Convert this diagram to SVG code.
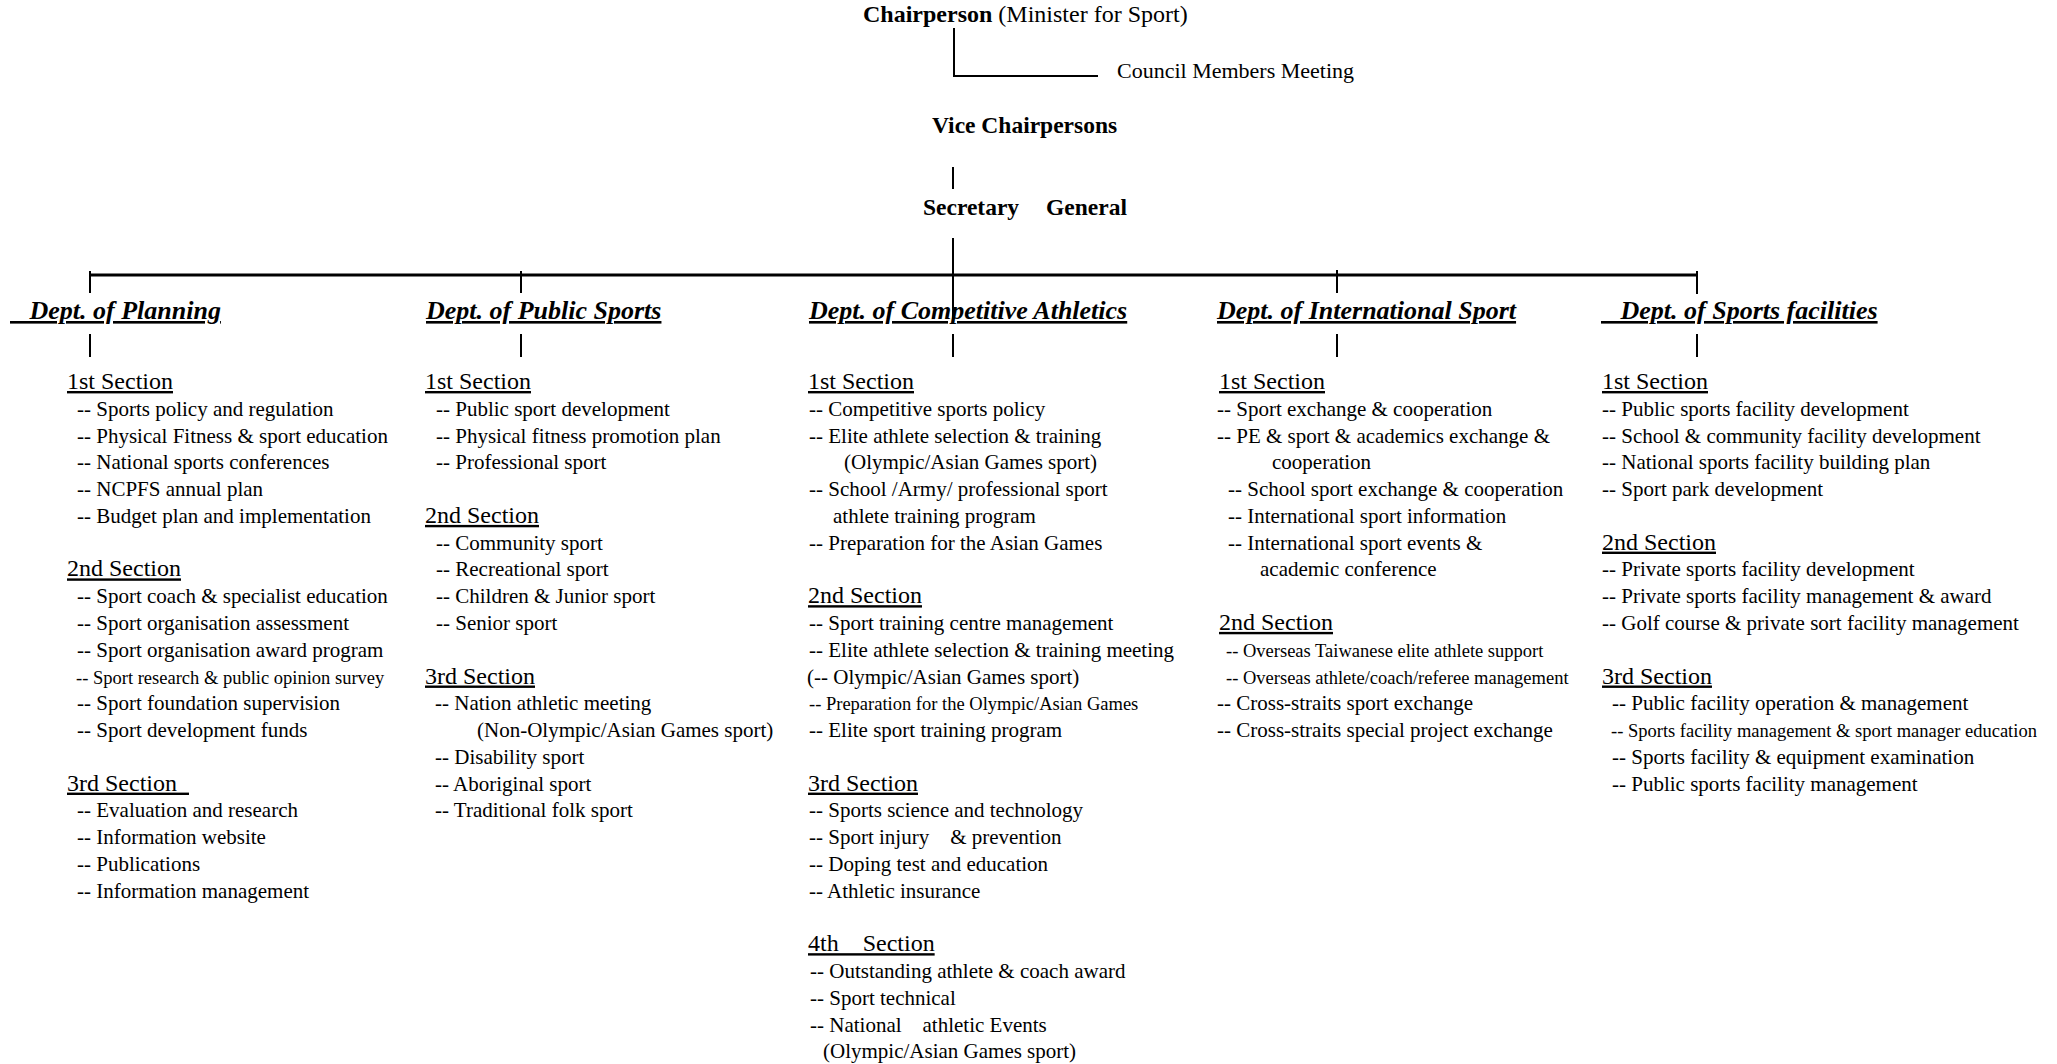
<svg xmlns="http://www.w3.org/2000/svg" width="2057" height="1064" viewBox="0 0 2057 1064">
  <style>
    text { font-family: "Liberation Serif", "Times New Roman", serif; fill: #000; white-space: pre; }
    .title { font-size: 23.5px; font-weight: bold; }
    .chair { font-size: 24px; }
    .reg { font-weight: normal; }
    .council { font-size: 22px; }
    .dept { font-size: 26px; font-weight: bold; font-style: italic; text-decoration: underline; text-decoration-thickness: 2.5px; }
    .sec { font-size: 24px; text-decoration: underline; }
    .t { font-size: 21px; }
    .s { font-size: 18.5px; }
    .ln { stroke: #000; stroke-width: 2; fill: none; }
    .bus { stroke: #000; stroke-width: 3; fill: none; }
  </style>

  <rect width="2057" height="1064" fill="#fff"/>

  <!-- connectors -->
  <g id="connectors">
    <polyline class="ln" points="954,28 954,76 1098,76"/>
    <line class="ln" x1="953" y1="167" x2="953" y2="189"/>
    <line class="ln" x1="953" y1="238" x2="953" y2="322"/>
    <line class="bus" x1="89" y1="275" x2="1698" y2="275"/>
    <line class="ln" x1="90" y1="271" x2="90" y2="293"/>
    <line class="ln" x1="521" y1="271" x2="521" y2="293"/>
    <line class="ln" x1="1337" y1="270" x2="1337" y2="293"/>
    <line class="ln" x1="1697" y1="271" x2="1697" y2="294"/>
    <line class="ln" x1="90" y1="334" x2="90" y2="357"/>
    <line class="ln" x1="521" y1="334" x2="521" y2="357"/>
    <line class="ln" x1="953" y1="334" x2="953" y2="357"/>
    <line class="ln" x1="1337" y1="334" x2="1337" y2="357"/>
    <line class="ln" x1="1697" y1="334" x2="1697" y2="357"/>
  </g>

  <!-- top of the hierarchy -->
  <g id="chairperson">
    <text class="title chair" x="863" y="22">Chairperson <tspan class="reg">(Minister for Sport)</tspan></text>
  </g>
  <g id="council-members-meeting">
    <text class="council" x="1117" y="78">Council Members Meeting</text>
  </g>
  <g id="vice-chairpersons">
    <text class="title" x="932" y="133">Vice Chairpersons</text>
  </g>
  <g id="secretary-general">
    <text class="title" x="923" y="215">Secretary</text>
    <text class="title" x="1046" y="215">General</text>
  </g>

  <!-- Dept. of Planning -->
  <g id="dept-planning">
    <text class="dept" x="10" y="319">   Dept. of Planning</text>
    <text class="sec" x="67" y="389">1st Section</text>
    <text class="t" x="77" y="415.8">-- Sports policy and regulation</text>
    <text class="t" x="77" y="442.5">-- Physical Fitness &amp; sport education</text>
    <text class="t" x="77" y="469.3">-- National sports conferences</text>
    <text class="t" x="77" y="496.1">-- NCPFS annual plan</text>
    <text class="t" x="77" y="522.9">-- Budget plan and implementation</text>
    <text class="sec" x="67" y="576.4">2nd Section</text>
    <text class="t" x="77" y="603.2">-- Sport coach &amp; specialist education</text>
    <text class="t" x="77" y="629.9">-- Sport organisation assessment</text>
    <text class="t" x="77" y="656.7">-- Sport organisation award program</text>
    <text class="s" x="76" y="683.5">-- Sport research &amp; public opinion survey</text>
    <text class="t" x="77" y="710.2">-- Sport foundation supervision</text>
    <text class="t" x="77" y="737">-- Sport development funds</text>
    <text class="sec" x="67" y="790.6">3rd Section  </text>
    <text class="t" x="77" y="817.3">-- Evaluation and research</text>
    <text class="t" x="77" y="844.1">-- Information website</text>
    <text class="t" x="77" y="870.9">-- Publications</text>
    <text class="t" x="77" y="897.6">-- Information management</text>
  </g>

  <!-- Dept. of Public Sports -->
  <g id="dept-public-sports">
    <text class="dept" x="426" y="319">Dept. of Public Sports</text>
    <text class="sec" x="425" y="389">1st Section</text>
    <text class="t" x="436" y="415.8">-- Public sport development</text>
    <text class="t" x="436" y="442.5">-- Physical fitness promotion plan</text>
    <text class="t" x="436" y="469.3">-- Professional sport</text>
    <text class="sec" x="425" y="522.9">2nd Section</text>
    <text class="t" x="436" y="549.6">-- Community sport</text>
    <text class="t" x="436" y="576.4">-- Recreational sport</text>
    <text class="t" x="436" y="603.2">-- Children &amp; Junior sport</text>
    <text class="t" x="436" y="629.9">-- Senior sport</text>
    <text class="sec" x="425" y="683.5">3rd Section</text>
    <text class="t" x="435" y="710.2">-- Nation athletic meeting</text>
    <text class="t" x="477" y="737">(Non-Olympic/Asian Games sport)</text>
    <text class="t" x="435" y="763.8">-- Disability sport</text>
    <text class="t" x="435" y="790.6">-- Aboriginal sport</text>
    <text class="t" x="435" y="817.3">-- Traditional folk sport</text>
  </g>

  <!-- Dept. of Competitive Athletics -->
  <g id="dept-competitive-athletics">
    <text class="dept" x="809" y="319">Dept. of Competitive Athletics</text>
    <text class="sec" x="808" y="389">1st Section</text>
    <text class="t" x="809" y="415.8">-- Competitive sports policy</text>
    <text class="t" x="809" y="442.5">-- Elite athlete selection &amp; training</text>
    <text class="t" x="844" y="469.3">(Olympic/Asian Games sport)</text>
    <text class="t" x="809" y="496.1">-- School /Army/ professional sport</text>
    <text class="t" x="833" y="522.9">athlete training program</text>
    <text class="t" x="809" y="549.6">-- Preparation for the Asian Games</text>
    <text class="sec" x="808" y="603.2">2nd Section</text>
    <text class="t" x="809" y="629.9">-- Sport training centre management</text>
    <text class="t" x="809" y="656.7">-- Elite athlete selection &amp; training meeting</text>
    <text class="t" x="807" y="683.5">(-- Olympic/Asian Games sport)</text>
    <text class="s" x="809" y="710.2">-- Preparation for the Olympic/Asian Games</text>
    <text class="t" x="809" y="737">-- Elite sport training program</text>
    <text class="sec" x="808" y="790.6">3rd Section</text>
    <text class="t" x="809" y="817.3">-- Sports science and technology</text>
    <text class="t" x="809" y="844.1">-- Sport injury    &amp; prevention</text>
    <text class="t" x="809" y="870.9">-- Doping test and education</text>
    <text class="t" x="809" y="897.6">-- Athletic insurance</text>
    <text class="sec" x="808" y="951.2">4th    Section</text>
    <text class="t" x="810" y="977.9">-- Outstanding athlete &amp; coach award</text>
    <text class="t" x="810" y="1004.7">-- Sport technical</text>
    <text class="t" x="810" y="1031.5">-- National    athletic Events</text>
    <text class="t" x="823" y="1058.3">(Olympic/Asian Games sport)</text>
  </g>

  <!-- Dept. of International Sport -->
  <g id="dept-international-sport">
    <text class="dept" x="1217" y="319">Dept. of International Sport</text>
    <text class="sec" x="1219" y="389">1st Section</text>
    <text class="t" x="1217" y="415.8">-- Sport exchange &amp; cooperation</text>
    <text class="t" x="1217" y="442.5">-- PE &amp; sport &amp; academics exchange &amp;</text>
    <text class="t" x="1272" y="469.3">cooperation</text>
    <text class="t" x="1228" y="496.1">-- School sport exchange &amp; cooperation</text>
    <text class="t" x="1228" y="522.9">-- International sport information</text>
    <text class="t" x="1228" y="549.6">-- International sport events &amp;</text>
    <text class="t" x="1260" y="576.4">academic conference</text>
    <text class="sec" x="1219" y="629.9">2nd Section</text>
    <text class="s" x="1226" y="656.7">-- Overseas Taiwanese elite athlete support</text>
    <text class="s" x="1226" y="683.5">-- Overseas athlete/coach/referee management</text>
    <text class="t" x="1217" y="710.2">-- Cross-straits sport exchange</text>
    <text class="t" x="1217" y="737">-- Cross-straits special project exchange</text>
  </g>

  <!-- Dept. of Sports facilities -->
  <g id="dept-sports-facilities">
    <text class="dept" x="1601" y="319">   Dept. of Sports facilities</text>
    <text class="sec" x="1602" y="389">1st Section</text>
    <text class="t" x="1602" y="415.8">-- Public sports facility development</text>
    <text class="t" x="1602" y="442.5">-- School &amp; community facility development</text>
    <text class="t" x="1602" y="469.3">-- National sports facility building plan</text>
    <text class="t" x="1602" y="496.1">-- Sport park development</text>
    <text class="sec" x="1602" y="549.6">2nd Section</text>
    <text class="t" x="1602" y="576.4">-- Private sports facility development</text>
    <text class="t" x="1602" y="603.2">-- Private sports facility management &amp; award</text>
    <text class="t" x="1602" y="629.9">-- Golf course &amp; private sort facility management</text>
    <text class="sec" x="1602" y="683.5">3rd Section</text>
    <text class="t" x="1612" y="710.2">-- Public facility operation &amp; management</text>
    <text class="s" x="1611" y="737">-- Sports facility management &amp; sport manager education</text>
    <text class="t" x="1612" y="763.8">-- Sports facility &amp; equipment examination</text>
    <text class="t" x="1612" y="790.6">-- Public sports facility management</text>
  </g>
</svg>
